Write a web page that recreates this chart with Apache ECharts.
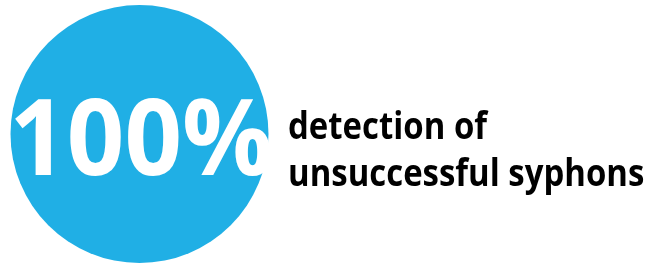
<!DOCTYPE html>
<html lang="en">
<head>
    <meta charset="UTF-8"/>
    <script src="https://cdn.jsdelivr.net/npm/echarts@6/dist/echarts.min.js"></script>
    <title>Detection</title>
    <style>
        html, body { margin: 0; padding: 0; background: #fff; }
        #main { width: 651px; height: 264px; }
    </style>
</head>
<body>
<div id="main"></div>
<script type="text/javascript">
    // 数据
    var shareValues = [100];
    var shareLabels = ['100%'];
    var captionLines = ['detection of', 'unsuccessful syphons'];

    var myChart = echarts.init(document.getElementById('main'));

    var graphics = [{
        type: 'text',
        x: 141,
        y: 145,
        z: 100,
        scaleX: 0.95,
        silent: true,
        style: {
            text: shareLabels[0],
            fill: '#fff',
            font: 'bold 106px "Open Sans"',
            textAlign: 'center',
            textVerticalAlign: 'middle'
        }
    }];
    for (var i = 0; i < captionLines.length; i++) {
        graphics.push({
            type: 'text',
            x: 288,
            y: 128 + i * 47,
            z: 100,
            scaleX: 0.89,
            silent: true,
            style: {
                text: captionLines[i],
                fill: '#000',
                font: 'bold 37px "Open Sans"',
                textAlign: 'left',
                textVerticalAlign: 'middle'
            }
        });
    }

    var option = {
        backgroundColor: '#fff',
        animation: false,
        series: [{
            type: 'pie',
            silent: true,
            z: 1,
            center: [139.5, 134],
            radius: 129,
            label: { show: false },
            labelLine: { show: false },
            itemStyle: { color: '#20AFE5' },
            data: shareValues.map(function (v) { return { value: v }; })
        }],
        graphic: graphics
    };
    myChart.setOption(option);
</script>
</body>
</html>
